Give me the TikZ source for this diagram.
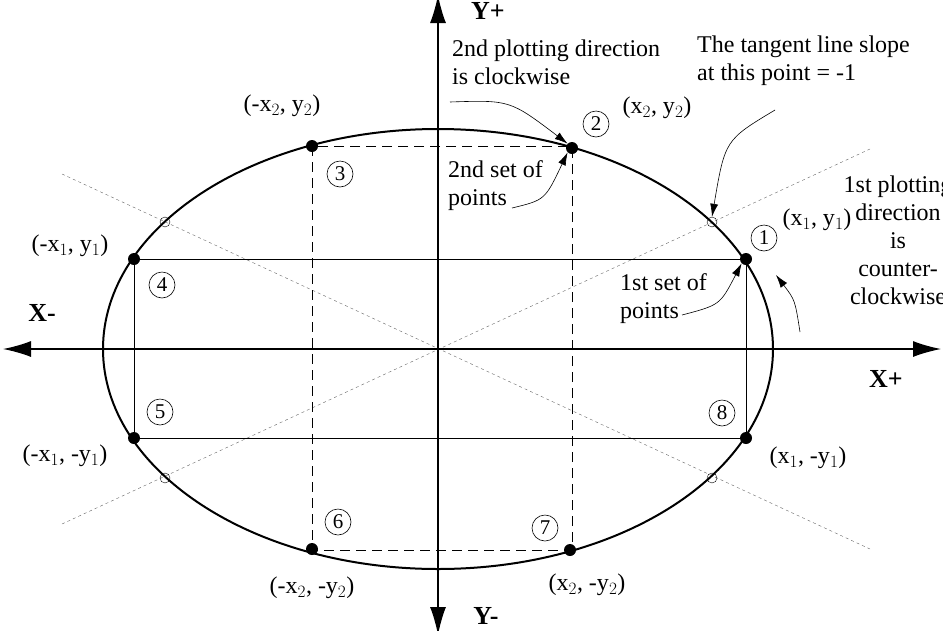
\documentclass[tikz,border=0pt]{standalone}
\usepackage{fontspec}
\setmainfont{Liberation Serif}
\usetikzlibrary{arrows.meta}
\begin{document}
\begin{tikzpicture}[x=1pt,y=-1pt,
  lbl/.style={font=\fontsize{24}{28}\selectfont,inner sep=0pt},
  num/.style={circle,draw,semithick,minimum size=26pt,inner sep=0pt,font=\fontsize{21}{24}\selectfont},
  dot/.style={circle,fill,inner sep=0pt,minimum size=12pt},
  odot/.style={circle,draw,thin,inner sep=0pt,minimum size=10pt},
  ann/.style={-{Latex[length=13pt,width=8pt]},semithick},
  axl/.style={inner sep=0pt,font=\fontsize{26}{30}\selectfont\bfseries},
  axis/.style={{Latex[length=28pt,width=16pt]}-{Latex[length=28pt,width=16pt]},line width=1.4pt}]
\useasboundingbox (0,0) rectangle (943,630);
\clip (0,0) rectangle (943,630);
\coordinate (O) at (438,349);
% dotted diagonals
\draw[dash pattern=on 3pt off 3pt,gray!80!black] (62,524) -- (870,149);
\draw[dash pattern=on 3pt off 3pt,gray!80!black] (62,174) -- (870,549);
% axes
\draw[axis] (3,349) -- (941,349);
\draw[axis] (438,-5) -- (438,635);
% ellipse
\draw[line width=2pt] (O) ellipse [x radius=335, y radius=220];
% rectangles
\draw[semithick] (134,259) rectangle (746,438);
\draw[semithick,dash pattern=on 10pt off 6pt] (312,146) rectangle (572,550);
% points
\node[dot] (p1) at (746,259) {};
\node[dot] (p2) at (572,148) {};
\node[dot] (p3) at (312,146) {};
\node[dot] (p4) at (134,259) {};
\node[dot] (p5) at (134,438) {};
\node[dot] (p6) at (312,549) {};
\node[dot] (p7) at (570,550) {};
\node[dot] (p8) at (746,438) {};
\node[odot] (t1) at (712,222) {};
\node[odot] (t2) at (165,222) {};
\node[odot] (t3) at (165,478) {};
\node[odot] (t4) at (712,478) {};
% numbers
\node[num] at (764,238) {1};
\node[num] at (596,124) {2};
\node[num] at (340,174) {3};
\node[num] at (162,285) {4};
\node[num] at (160,412) {5};
\node[num] at (338,522) {6};
\node[num] at (545,528) {7};
\node[num] at (722,413) {8};
% labels
\node[lbl] at (817,220) {(x$_1$, y$_1$)};
\node[lbl] at (657,108) {(x$_2$, y$_2$)};
\node[lbl] at (282,106) {(-x$_2$, y$_2$)};
\node[lbl] at (70,246) {(-x$_1$, y$_1$)};
\node[lbl] at (65,456) {(-x$_1$, -y$_1$)};
\node[lbl] at (808,458) {(x$_1$, -y$_1$)};
\node[lbl] at (312,588) {(-x$_2$, -y$_2$)};
\node[lbl] at (587,585) {(x$_2$, -y$_2$)};
\node[axl] at (488,11) {Y+};
\node[axl] at (486,616) {Y-};
\node[axl] at (42,313) {X-};
\node[axl] at (886,379) {X+};
% annotations
\node[lbl,align=left,anchor=north west] (a2) at (452,40) {2nd plotting direction\\is clockwise};
\node[lbl,align=left,anchor=north west] (at) at (697,36) {The tangent line slope\\at this point = -1};
\node[lbl,align=left,anchor=north west] (s2) at (448,160) {2nd set of\\points};
\node[lbl,align=left,anchor=north west] (s1) at (620,273) {1st set of\\points};
\node[lbl,align=center] (a1) at (898,240) {1st plotting\\direction\\is\\counter-\\clockwise};
\coordinate (a2s) at (450,102);
\draw[ann] (a2s) .. controls (510,100) .. (p2.north west);
\coordinate (ats) at (775,110);
\draw[ann] (ats) .. controls (725,140) .. (t1.north);
\coordinate (s2s) at (512,208);
\draw[ann] (s2s) .. controls (545,200) .. (p2.south west);
\coordinate (s1s) at (682,315);
\draw[ann] (s1s) .. controls (720,305) .. (p1.south west);
\coordinate (ccs) at (800,332);
\draw[ann] (ccs) .. controls (795,300) .. (776,275);
\end{tikzpicture}
\end{document}
